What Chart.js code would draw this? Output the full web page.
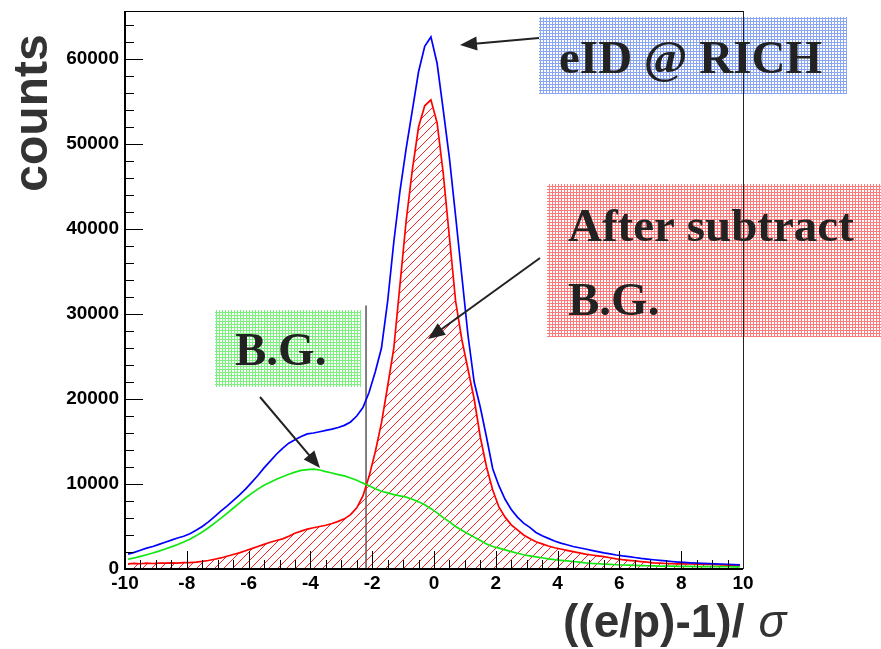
<!DOCTYPE html>
<html>
<head>
<meta charset="utf-8">
<script src="https://cdn.jsdelivr.net/npm/chart.js@4"></script>
<style>
html, body { margin: 0; padding: 0; background: #fff; }
#wrap { width: 881px; height: 649px; }
</style>
</head>
<body>
<div id="wrap"><canvas id="grphEP" width="881" height="649"></canvas></div>
<script>
// histogram binning: 100 bins of 0.2 from -10 to 10
var binLow = -10, binWidth = 0.2;

// eID @ RICH (blue)
var eidCounts = [
  1750, 1950, 2200, 2450, 2650, 2900, 3150, 3400, 3650, 3850,
  4150, 4550, 5000, 5550, 6150, 6800, 7400, 8050, 8700, 9400,
  10200, 11000, 11900, 12700, 13500, 14200, 14800, 15200, 15600, 15900,
  16000, 16150, 16300, 16450, 16650, 16900, 17300, 18000, 19000, 20800,
  23200, 26000, 31500, 38500, 44500, 49500, 54000, 58500, 61500, 62600,
  59500, 54000, 48300, 41500, 34500, 27500, 22000, 19000, 15500, 11800,
  9800, 8200, 7000, 6100, 5400, 4900, 4300, 3900, 3600, 3300,
  3050, 2850, 2650, 2500, 2350, 2200, 2050, 1900, 1780, 1650,
  1540, 1450, 1350, 1250, 1170, 1090, 1020, 950, 880, 820,
  770, 730, 700, 670, 640, 610, 590, 560, 520, 480
];

// after subtract B.G. (red, hatched)
var signalCounts = [
  600, 650, 620, 680, 650, 700, 680, 720, 700, 740,
  760, 820, 900, 1000, 1150, 1300, 1500, 1700, 1900, 2150,
  2400, 2650, 2900, 3150, 3350, 3550, 3850, 4200, 4450, 4700,
  4850, 5000, 5150, 5350, 5600, 5900, 6400, 7200, 8600, 10900,
  13800, 17200, 21500, 26000, 33500, 41000, 47000, 52000, 54500, 55200,
  52500, 46500, 39000, 31500, 27000, 23500, 20000, 15500, 12000, 9300,
  7300, 6100, 5200, 4600, 4000, 3600, 3200, 2950, 2700, 2500,
  2350, 2200, 2050, 1900, 1750, 1650, 1550, 1450, 1320, 1200,
  1100, 1020, 950, 870, 800, 720, 680, 650, 630, 610,
  600, 590, 570, 550, 530, 510, 480, 460, 440, 420
];

// B.G. (green)
var bgCounts = [
  1150, 1300, 1480, 1680, 1880, 2100, 2350, 2600, 2880, 3180,
  3500, 3900, 4350, 4850, 5400, 5950, 6550, 7150, 7750, 8350,
  8900, 9400, 9850, 10200, 10550, 10850, 11150, 11400, 11600, 11700,
  11750, 11650, 11450, 11300, 11100, 10950, 10700, 10450, 10100, 9800,
  9450, 9150, 8950, 8750, 8600, 8450, 8200, 7900, 7550, 7100,
  6600, 6050, 5550, 5000, 4550, 4150, 3750, 3350, 2950, 2650,
  2450, 2250, 2050, 1850, 1680, 1550, 1430, 1320, 1200, 1100,
  1020, 950, 880, 800, 720, 660, 620, 580, 540, 500,
  470, 450, 430, 400, 380, 360, 350, 340, 330, 320,
  310, 300, 290, 285, 280, 275, 270, 265, 260, 255
];

// y-axis labels, cut line
var yTickLabels = [0, 10000, 20000, 30000, 40000, 50000, 60000];
var cutX = -2.2, cutTop = 31000;
var xMin = -10, xMax = 10, yMax = 65650;

function histPoints(counts) {
    return counts.map(function (c, i) { return { x: binLow + (i + 0.5) * binWidth, y: c }; });
}

function hatch(color, s) {
    var c = document.createElement('canvas');
    c.width = s; c.height = s;
    var g = c.getContext('2d');
    g.strokeStyle = color; g.lineWidth = 1;
    g.beginPath();
    g.moveTo(0, s); g.lineTo(s, 0);
    g.moveTo(-1, 1); g.lineTo(1, -1);
    g.moveTo(s - 1, s + 1); g.lineTo(s + 1, s - 1);
    g.stroke();
    return g.createPattern(c, 'repeat');
}

function mesh(color) {
    var c = document.createElement('canvas');
    c.width = 3; c.height = 3;
    var g = c.getContext('2d');
    g.fillStyle = '#fff'; g.fillRect(0, 0, 3, 3);
    g.fillStyle = color;
    g.fillRect(0, 0, 3, 1);
    g.fillRect(0, 0, 1, 3);
    return g.createPattern(c, 'repeat');
}

function arrow(ctx, x1, y1, x2, y2) {
    var ang = Math.atan2(y2 - y1, x2 - x1), hl = 17, hw = 7;
    var ca = Math.cos(ang), sa = Math.sin(ang);
    ctx.beginPath();
    ctx.moveTo(x1, y1);
    ctx.lineTo(x2 - ca * hl * 0.7, y2 - sa * hl * 0.7);
    ctx.stroke();
    ctx.beginPath();
    ctx.moveTo(x2, y2);
    ctx.lineTo(x2 - hl * ca + hw * sa, y2 - hl * sa - hw * ca);
    ctx.lineTo(x2 - hl * ca - hw * sa, y2 - hl * sa + hw * ca);
    ctx.closePath();
    ctx.fill();
}

var tickFont = { family: '"Liberation Sans", Arial, sans-serif', weight: 'bold', size: 19 };

var decor = {
    id: 'decor',
    afterDraw: function (chart) {
        var ctx = chart.ctx, xs = chart.scales.x, ys = chart.scales.y, a = chart.chartArea;
        ctx.save();

        // inward ticks
        ctx.strokeStyle = '#000';
        ctx.lineWidth = 1;
        ctx.beginPath();
        for (var v = 0; v < yMax; v += 2000) {
            var py = Math.round(ys.getPixelForValue(v)) + 0.5;
            var len = v % 10000 === 0 ? 18 : 9;
            ctx.moveTo(a.left, py); ctx.lineTo(a.left + len, py);
        }
        for (var k = -20; k <= 20; k++) {
            var px = Math.round(xs.getPixelForValue(k * 0.5)) + 0.5;
            var l2 = k % 4 === 0 ? 18 : 9;
            ctx.moveTo(px, a.bottom); ctx.lineTo(px, a.bottom - l2);
        }
        ctx.stroke();

        // frame
        ctx.fillStyle = '#000';
        ctx.fillRect(a.left - 1, a.top, 2, a.bottom - a.top + 1);
        ctx.fillRect(a.left - 1, a.bottom - 1, a.right - a.left + 1, 2);
        ctx.fillRect(a.left, a.top, a.right - a.left, 1);

        // label boxes
        ctx.fillStyle = mesh('#8aa6f2');
        ctx.fillRect(539, 17, 308, 77);
        ctx.fillStyle = mesh('#ff7a7a');
        ctx.fillRect(547, 184, 334, 153);
        ctx.fillStyle = mesh('#7cf07c');
        ctx.fillRect(215, 310, 146, 77);

        // right frame line on top of boxes
        ctx.fillStyle = '#222';
        ctx.fillRect(Math.round(a.right), a.top, 1, a.bottom - a.top);

        ctx.fillStyle = '#222';
        ctx.textBaseline = 'alphabetic';
        ctx.textAlign = 'left';
        ctx.font = 'bold 47px "Liberation Serif", "Times New Roman", serif';
        ctx.fillText('eID @ RICH', 559, 73);
        ctx.fillText('After subtract', 568, 241);
        ctx.fillText('B.G.', 568, 315);
        ctx.fillText('B.G.', 235, 365);

        // arrows
        ctx.strokeStyle = '#222';
        ctx.fillStyle = '#222';
        ctx.lineWidth = 2;
        arrow(ctx, 539, 38, 460, 45);
        arrow(ctx, 540, 258, 428, 339);
        arrow(ctx, 260, 397, 320, 468);

        // axis titles
        ctx.fillStyle = '#333';
        ctx.font = 'bold 46px "Liberation Sans", Arial, sans-serif';
        var t = '((e/p)-1)/';
        ctx.fillText(t, 563, 637);
        var w = ctx.measureText(t).width;
        ctx.font = 'italic 46px "Liberation Sans", Arial, sans-serif';
        ctx.fillText('\u03c3', 563 + w + 14, 637);

        ctx.translate(47, 113);
        ctx.rotate(-Math.PI / 2);
        ctx.textAlign = 'center';
        ctx.font = 'bold 48px "Liberation Sans", Arial, sans-serif';
        ctx.fillText('counts', 0, 0);
        ctx.restore();
    }
};

window.onload = function () {
    var ctx = document.getElementById('grphEP').getContext('2d');
    var lineBase = { pointRadius: 0, borderWidth: 1.7, fill: false, tension: 0 };
    new Chart(ctx, {
        type: 'line',
        data: {
            datasets: [
                Object.assign({}, lineBase, { label: 'B.G.', data: histPoints(bgCounts), borderColor: '#10e810' }),
                Object.assign({}, lineBase, { label: 'eID @ RICH', data: histPoints(eidCounts), borderColor: '#0000ff' }),
                Object.assign({}, lineBase, { label: 'After subtract B.G.', data: histPoints(signalCounts), borderColor: '#ff0000',
                    fill: 'origin', backgroundColor: hatch('#ff2020', 9) }),
                { label: 'cut', data: [{ x: cutX, y: 0 }, { x: cutX, y: cutTop }], borderColor: '#000', borderWidth: 1,
                  pointRadius: 0, fill: false }
            ]
        },
        options: {
            responsive: false,
            animation: false,
            devicePixelRatio: 1,
            layout: { padding: { left: 0, top: 11, right: 138, bottom: 0 } },
            plugins: { legend: { display: false }, tooltip: { enabled: false } },
            scales: {
                x: {
                    type: 'linear', min: xMin, max: xMax,
                    grid: { display: false, drawTicks: false }, border: { display: false },
                    ticks: { stepSize: 2, padding: 3, color: '#000', font: tickFont, maxRotation: 0, autoSkip: false,
                        callback: function (v) { return String(v); } },
                    afterFit: function (s) {
                        s.height = 80;
                        s.paddingLeft = 0; s.paddingRight = 0;
                    }
                },
                y: {
                    type: 'linear', min: 0, max: yMax,
                    grid: { display: false, drawTicks: false }, border: { display: false },
                    ticks: { padding: 6, color: '#000', font: tickFont, autoSkip: false,
                        callback: function (v) { return String(v); } },
                    afterBuildTicks: function (s) {
                        s.ticks = yTickLabels.map(function (v) { return { value: v }; });
                    },
                    afterFit: function (s) {
                        s.width = 125;
                        s.paddingTop = 0; s.paddingBottom = 0;
                    }
                }
            }
        },
        plugins: [decor]
    });
};
</script>
</body>
</html>
